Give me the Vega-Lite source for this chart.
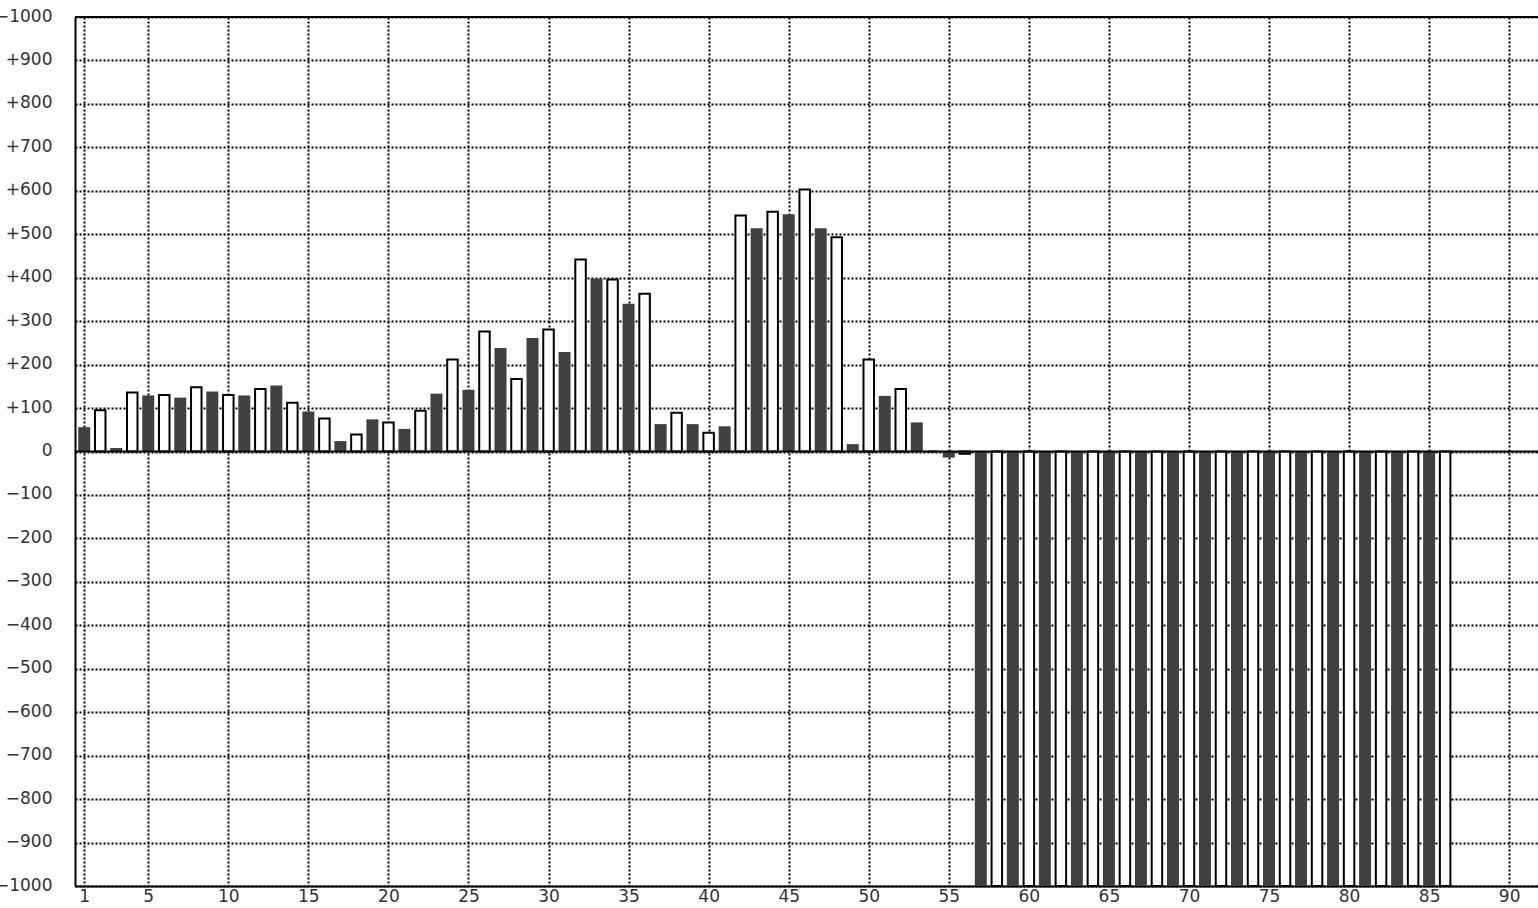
{
  "$schema": "https://vega.github.io/schema/vega-lite/v6.json",
  "width": 1463,
  "height": 869,
  "autosize": "none",
  "padding": {"left": 75, "top": 17, "right": 0, "bottom": 22},
  "background": "white",
  "config": {
    "view": {"stroke": null},
    "scale": {"continuousPadding": 0},
    "axis": {
      "grid": true,
      "gridColor": "black",
      "gridDash": [2, 2],
      "gridWidth": 2,
      "gridOpacity": 1,
      "ticks": false,
      "tickSize": 0,
      "domain": true,
      "domainColor": "black",
      "domainWidth": 2,
      "labelFont": "DejaVu Sans",
      "labelFontSize": 17,
      "labelColor": "#333333",
      "labelFlush": false,
      "labelOverlap": false,
      "title": null
    }
  },
  "data": {
    "values": [
      {"x": 1, "value": 56, "series": "dark"},
      {"x": 2, "value": 95, "series": "light"},
      {"x": 3, "value": 8, "series": "dark"},
      {"x": 4, "value": 136, "series": "light"},
      {"x": 5, "value": 129, "series": "dark"},
      {"x": 6, "value": 130, "series": "light"},
      {"x": 7, "value": 124, "series": "dark"},
      {"x": 8, "value": 148, "series": "light"},
      {"x": 9, "value": 138, "series": "dark"},
      {"x": 10, "value": 130, "series": "light"},
      {"x": 11, "value": 129, "series": "dark"},
      {"x": 12, "value": 144, "series": "light"},
      {"x": 13, "value": 152, "series": "dark"},
      {"x": 14, "value": 112, "series": "light"},
      {"x": 15, "value": 92, "series": "dark"},
      {"x": 16, "value": 76, "series": "light"},
      {"x": 17, "value": 24, "series": "dark"},
      {"x": 18, "value": 39, "series": "light"},
      {"x": 19, "value": 74, "series": "dark"},
      {"x": 20, "value": 67, "series": "light"},
      {"x": 21, "value": 52, "series": "dark"},
      {"x": 22, "value": 94, "series": "light"},
      {"x": 23, "value": 133, "series": "dark"},
      {"x": 24, "value": 212, "series": "light"},
      {"x": 25, "value": 142, "series": "dark"},
      {"x": 26, "value": 276, "series": "light"},
      {"x": 27, "value": 238, "series": "dark"},
      {"x": 28, "value": 167, "series": "light"},
      {"x": 29, "value": 261, "series": "dark"},
      {"x": 30, "value": 281, "series": "light"},
      {"x": 31, "value": 229, "series": "dark"},
      {"x": 32, "value": 442, "series": "light"},
      {"x": 33, "value": 398, "series": "dark"},
      {"x": 34, "value": 396, "series": "light"},
      {"x": 35, "value": 340, "series": "dark"},
      {"x": 36, "value": 363, "series": "light"},
      {"x": 37, "value": 63, "series": "dark"},
      {"x": 38, "value": 89, "series": "light"},
      {"x": 39, "value": 63, "series": "dark"},
      {"x": 40, "value": 43, "series": "light"},
      {"x": 41, "value": 58, "series": "dark"},
      {"x": 42, "value": 543, "series": "light"},
      {"x": 43, "value": 514, "series": "dark"},
      {"x": 44, "value": 552, "series": "light"},
      {"x": 45, "value": 546, "series": "dark"},
      {"x": 46, "value": 603, "series": "light"},
      {"x": 47, "value": 514, "series": "dark"},
      {"x": 48, "value": 493, "series": "light"},
      {"x": 49, "value": 17, "series": "dark"},
      {"x": 50, "value": 212, "series": "light"},
      {"x": 51, "value": 128, "series": "dark"},
      {"x": 52, "value": 144, "series": "light"},
      {"x": 53, "value": 67, "series": "dark"},
      {"x": 54, "value": 0, "series": "light"},
      {"x": 55, "value": -14, "series": "dark"},
      {"x": 56, "value": -5, "series": "light"},
      {"x": 57, "value": -1000, "series": "dark"},
      {"x": 58, "value": -1000, "series": "light"},
      {"x": 59, "value": -1000, "series": "dark"},
      {"x": 60, "value": -1000, "series": "light"},
      {"x": 61, "value": -1000, "series": "dark"},
      {"x": 62, "value": -1000, "series": "light"},
      {"x": 63, "value": -1000, "series": "dark"},
      {"x": 64, "value": -1000, "series": "light"},
      {"x": 65, "value": -1000, "series": "dark"},
      {"x": 66, "value": -1000, "series": "light"},
      {"x": 67, "value": -1000, "series": "dark"},
      {"x": 68, "value": -1000, "series": "light"},
      {"x": 69, "value": -1000, "series": "dark"},
      {"x": 70, "value": -1000, "series": "light"},
      {"x": 71, "value": -1000, "series": "dark"},
      {"x": 72, "value": -1000, "series": "light"},
      {"x": 73, "value": -1000, "series": "dark"},
      {"x": 74, "value": -1000, "series": "light"},
      {"x": 75, "value": -1000, "series": "dark"},
      {"x": 76, "value": -1000, "series": "light"},
      {"x": 77, "value": -1000, "series": "dark"},
      {"x": 78, "value": -1000, "series": "light"},
      {"x": 79, "value": -1000, "series": "dark"},
      {"x": 80, "value": -1000, "series": "light"},
      {"x": 81, "value": -1000, "series": "dark"},
      {"x": 82, "value": -1000, "series": "light"},
      {"x": 83, "value": -1000, "series": "dark"},
      {"x": 84, "value": -1000, "series": "light"},
      {"x": 85, "value": -1000, "series": "dark"},
      {"x": 86, "value": -1000, "series": "light"}
    ]
  },
  "layer": [
    {
      "transform": [{"filter": "datum.series == 'dark'"}],
      "mark": {"type": "bar", "orient": "vertical", "size": 12, "fill": "#404040", "strokeWidth": 0},
      "encoding": {
        "x": {
          "field": "x",
          "type": "quantitative",
          "scale": {"domain": [0.425, 91.8], "nice": false, "zero": false, "padding": 0},
          "axis": {
            "values": [1, 5, 10, 15, 20, 25, 30, 35, 40, 45, 50, 55, 60, 65, 70, 75, 80, 85, 90],
            "labelPadding": 2,
            "orient": "bottom"
          }
        },
        "y": {
          "field": "value",
          "type": "quantitative",
          "scale": {"domain": [-1000, 1000], "nice": false, "padding": 0},
          "axis": {
            "values": [-1000, -900, -800, -700, -600, -500, -400, -300, -200, -100, 0, 100, 200, 300, 400, 500, 600, 700, 800, 900, 1000],
            "labelExpr": "datum.value == 1000 ? '−1000' : (datum.value > 0 ? '+' + datum.value : (datum.value < 0 ? '−' + abs(datum.value) : '0'))",
            "labelPadding": 23,
            "labelOffset": -1,
            "orient": "left"
          }
        }
      }
    },
    {
      "transform": [{"filter": "datum.series == 'light'"}],
      "mark": {"type": "bar", "orient": "vertical", "size": 10.5, "fill": "white", "stroke": "black", "strokeWidth": 2},
      "encoding": {
        "x": {"field": "x", "type": "quantitative"},
        "y": {"field": "value", "type": "quantitative"}
      }
    },
    {
      "data": {"values": [{"level": 0}, {"level": 1000}]},
      "mark": {"type": "rule", "color": "black", "strokeWidth": 2},
      "encoding": {
        "y": {"field": "level", "type": "quantitative"}
      }
    }
  ]
}
